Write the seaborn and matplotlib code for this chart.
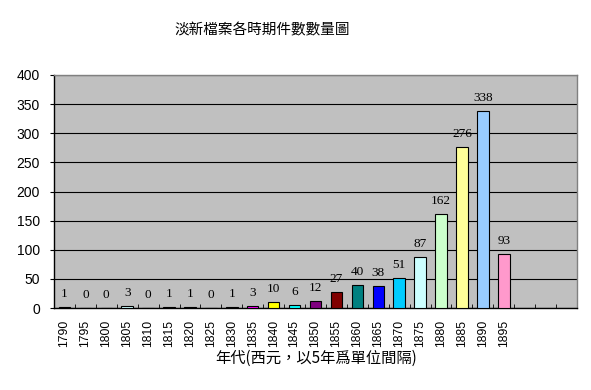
import seaborn as sns
import pandas as pd
from matplotlib import pyplot as plt
from matplotlib.ticker import MultipleLocator, FixedLocator

years = ['1790', '1795', '1800', '1805', '1810', '1815', '1820', '1825', '1830', '1835', '1840',
         '1845', '1850', '1855', '1860', '1865', '1870', '1875', '1880', '1885', '1890', '1895']
counts = [1, 0, 0, 3, 0, 1, 1, 0, 1, 3, 10, 6, 12, 27, 40, 38, 51, 87, 162, 276, 338, 93]

# excel's default series colours, one per year
colors = ['#9999FF', '#993366', '#FFFFCC', '#CCFFFF', '#660066', '#FF8080', '#0066CC', '#CCCCFF',
          '#000080', '#FF00FF', '#FFFF00', '#00FFFF', '#800080', '#800000', '#008080', '#0000FF',
          '#00CCFF', '#CCFFFF', '#CCFFCC', '#FFFF99', '#99CCFF', '#FF99CC']

title = '淡新檔案各時期件數數量圖'
xlabel = '年代(西元，以5年爲單位間隔)'

cjk = ['Noto Sans CJK TC', 'DejaVu Sans']

df = pd.DataFrame({'year': years, 'count': counts})

fig = plt.figure(figsize=(5.91, 3.90), dpi=100)
ax = fig.add_axes([54 / 591, 1 - 308 / 390, 523 / 591, 233 / 390])
ax.set_facecolor('#C0C0C0')

sns.barplot(data=df, x='year', y='count', hue='year', palette=colors, legend=False,
            saturation=1, width=0.55, edgecolor='black', linewidth=0.8, ax=ax, zorder=3)

for c in ax.containers:
    ax.bar_label(c, fmt='%d', padding=5, fontsize=9.5, family='Liberation Serif')

ax.set_xlim(-0.5, 24.5)
ax.set_ylim(0, 400)
ax.yaxis.set_major_locator(MultipleLocator(50))
ax.grid(axis='y', color='black', linewidth=0.8, zorder=1)
ax.set_axisbelow(True)

ax.xaxis.set_minor_locator(FixedLocator([i + 0.5 for i in range(-1, 25)]))
ax.tick_params(axis='x', which='major', length=0, pad=8.5, labelrotation=90, labelsize=8.8)
ax.tick_params(axis='x', which='minor', direction='in', length=3, color='black')
ax.tick_params(axis='y', length=3, pad=7, labelsize=10, color='black')
for lab in ax.get_xticklabels() + ax.get_yticklabels():
    lab.set_family('Liberation Sans')

for s in ['left', 'bottom']:
    ax.spines[s].set_color('black')
    ax.spines[s].set_linewidth(1)
for s in ['top', 'right']:
    ax.spines[s].set_color('#808080')
    ax.spines[s].set_linewidth(1)

ax.set_xlabel('')
ax.set_ylabel('')

fig.text(262 / 591, 1 - 30 / 390, title, ha='center', va='center', fontsize=10.5, family=cjk)
fig.text(316 / 591, 1 - 358 / 390, xlabel, ha='center', va='center', fontsize=11, family=cjk)

fig.savefig('out.png', dpi=100)
